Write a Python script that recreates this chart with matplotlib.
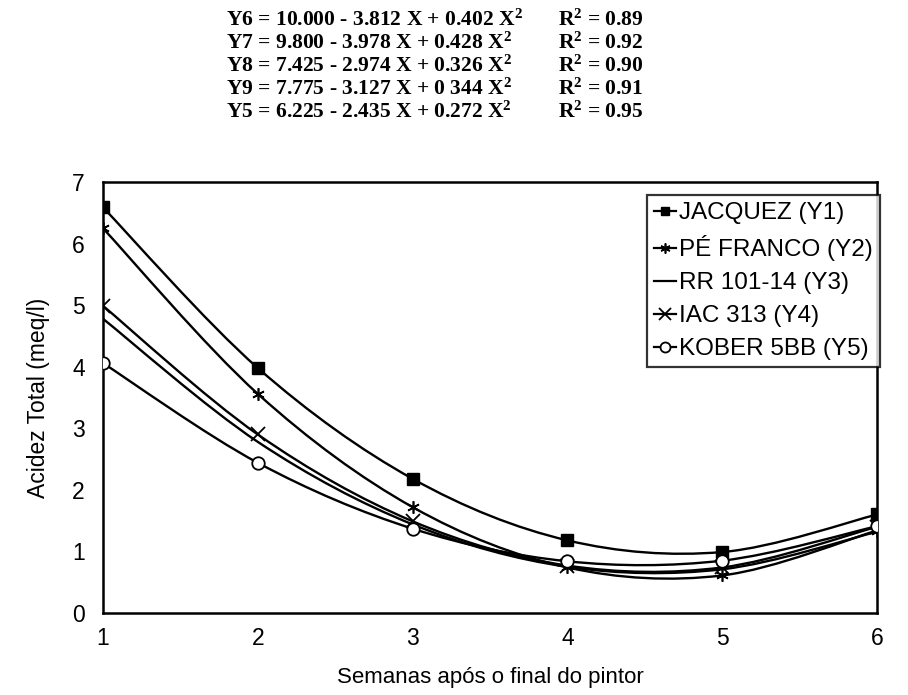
import matplotlib

matplotlib.use("Agg")
import matplotlib.pyplot as plt
from matplotlib.lines import Line2D
from matplotlib.path import Path
from matplotlib.patches import PathPatch

plt.rcParams["font.family"] = ["Liberation Sans", "DejaVu Sans"]
plt.rcParams["mathtext.fontset"] = "custom"
plt.rcParams["mathtext.rm"] = "Liberation Serif:bold"
plt.rcParams["mathtext.default"] = "rm"

# semanas
weeks = [1, 2, 3, 4, 5, 6]

# acidez total (meq/l)
jacquez = [6.59, 3.98, 2.18, 1.18, 0.99, 1.60]
pe_franco = [6.25, 3.56, 1.72, 0.74, 0.61, 1.34]
rr_101_14 = [4.78, 2.78, 1.44, 0.75, 0.71, 1.32]
iac_313 = [4.99, 2.90, 1.49, 0.77, 0.74, 1.40]
kober_5bb = [4.06, 2.44, 1.37, 0.84, 0.85, 1.41]

series_labels = ["JACQUEZ (Y1)", "PÉ FRANCO (Y2)", "RR 101-14 (Y3)", "IAC 313 (Y4)", "KOBER 5BB (Y5)"]

equations = [
    "Y6 = 10.000 - 3.812 X + 0.402 X$^{2}$",
    "Y7 = 9.800 - 3.978 X + 0.428 X$^{2}$",
    "Y8 = 7.425 - 2.974 X + 0.326 X$^{2}$",
    "Y9 = 7.775 - 3.127 X + 0 344 X$^{2}$",
    "Y5 = 6.225 - 2.435 X + 0.272 X$^{2}$",
]
r2_values = ["0.89", "0.92", "0.90", "0.91", "0.95"]


def _smooth_path(xs, ys):
    # curva suavizada tipo Excel (Catmull-Rom em Bezier cubica)
    n = len(xs)
    verts = [(xs[0], ys[0])]
    codes = [Path.MOVETO]
    for i in range(n - 1):
        x0, y0 = (xs[i - 1], ys[i - 1]) if i > 0 else (xs[i], ys[i])
        x1, y1 = xs[i], ys[i]
        x2, y2 = xs[i + 1], ys[i + 1]
        x3, y3 = (xs[i + 2], ys[i + 2]) if i + 2 < n else (x2, y2)
        c1 = (x1 + (x2 - x0) / 6, y1 + (y2 - y0) / 6)
        c2 = (x2 - (x3 - x1) / 6, y2 - (y3 - y1) / 6)
        verts += [c1, c2, (x2, y2)]
        codes += [Path.CURVE4] * 3
    return Path(verts, codes)


fig = plt.figure(figsize=(9.08, 6.95), dpi=100)
ax = fig.add_axes([0.1134, 0.118, 0.8525, 0.62])

styles = [
    dict(marker="s", markersize=8, markerfacecolor="black"),
    dict(marker=(6, 2, 0), markersize=9, markeredgewidth=1.2),
    dict(marker=None),
    dict(marker="x", markersize=10, markeredgewidth=1.3),
    dict(marker="o", markersize=9, markerfacecolor="white", markeredgewidth=1.3),
]
all_series = [jacquez, pe_franco, rr_101_14, iac_313, kober_5bb]

handles = []
for values, style, label in zip(all_series, styles, series_labels):
    patch = PathPatch(_smooth_path(weeks, values), fill=False, edgecolor="black",
                      linewidth=1.7, zorder=2)
    ax.add_patch(patch)
    if style["marker"] is not None:
        ax.plot(weeks, values, linestyle="none", color="black", zorder=3, **style)
    leg_style = dict(style)
    if leg_style["marker"] is not None:
        leg_style["markersize"] = style["markersize"] * 0.8
    handles.append(Line2D([], [], color="black", linewidth=1.6, **leg_style))

ax.set_xlim(1, 6)
ax.set_ylim(0, 7)
ax.set_xticks(weeks)
ax.set_yticks(range(0, 8))
ax.tick_params(length=0, labelsize=16.5)
ax.tick_params(axis="y", pad=13)
ax.tick_params(axis="x", pad=10)
for spine in ax.spines.values():
    spine.set_linewidth(1.8)

ax.set_xlabel("Semanas após o final do pintor", fontsize=16, labelpad=12)
ax.set_ylabel("Acidez Total (meq/l)", fontsize=16.5, labelpad=16)

leg = fig.legend(handles, series_labels, loc="upper left",
                 bbox_to_anchor=(647 / 908, 1 - 195 / 695), fontsize=17.5,
                 frameon=True, fancybox=False, handlelength=0.9, handletextpad=0.1,
                 borderpad=0.3, labelspacing=0.45, borderaxespad=0)
leg.get_frame().set_edgecolor("black")
leg.get_frame().set_linewidth(1.6)

for i, (eq, r2) in enumerate(zip(equations, r2_values)):
    y = 1 - (20 + 23 * i) / 695
    fig.text(226 / 908, y, eq, fontsize=15.5, fontweight="bold",
             family="Liberation Serif", va="center", ha="left")
    fig.text(558 / 908, y, "R$^{2}$ = " + r2, fontsize=15.5, fontweight="bold",
             family="Liberation Serif", va="center", ha="left")

fig.savefig("out.png")
